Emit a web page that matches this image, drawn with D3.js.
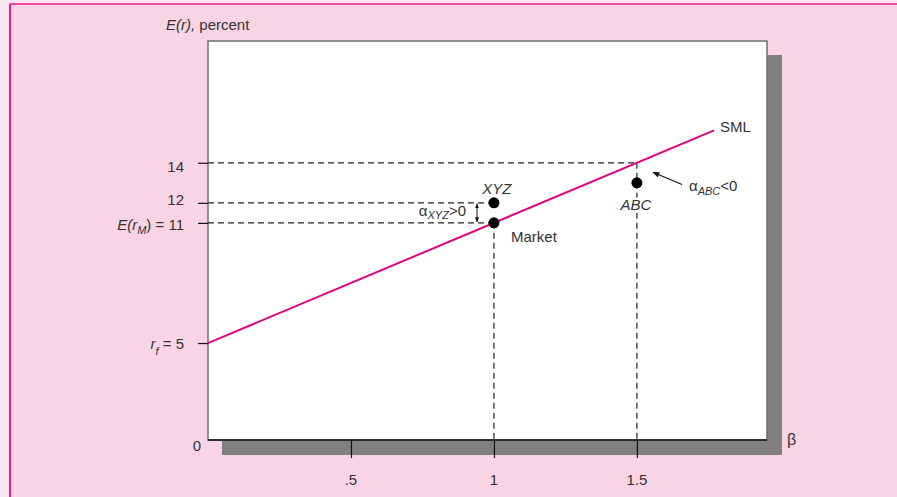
<!DOCTYPE html>
<html><head><meta charset="utf-8">
<script src="https://cdn.jsdelivr.net/npm/d3@7"></script>
<style>
html,body{margin:0;padding:0;background:#fce7f0;}
svg{display:block;font-family:"Liberation Sans",Arial,Helvetica,sans-serif;}
</style></head>
<body>
<svg id="chart" width="897" height="497"></svg>
<script>
// ---- data ----
const riskFree = 5;
const marketBeta = 1;
const marketReturn = 11;
const smlBetaEnd = 1.77;
const stockNames = ["XYZ", "ABC"];
const stockBetas = [1, 1.5];
const stockReturns = [12, 13];
const smlAtABC = 14;
const xTickValues = [0.5, 1, 1.5];
const xTickLabels = [".5", "1", "1.5"];
const yTickValues = [5, 11, 12, 14];

const svg = d3.select("#chart");
const W = 897, H = 497;
const box = {left: 208, top: 41, right: 767, bottom: 440};

const x = d3.scaleLinear().domain([0, 1.955]).range([box.left, box.right]);
const y = d3.scaleLinear().domain([0, 20]).range([443.2, 42.6]);

const pink = "#e5007e";

// frame
svg.append("rect").attr("x", 0).attr("y", 0).attr("width", W).attr("height", H).attr("fill", "#fce7f0");
svg.append("rect").attr("x", 10).attr("y", 4).attr("width", W - 10).attr("height", H - 4).attr("fill", "#f9d4e5");
svg.append("line").attr("x1", 10).attr("x2", W).attr("y1", 4).attr("y2", 4).attr("stroke", "#ec4a9e").attr("stroke-width", 2);
svg.append("line").attr("x1", 10).attr("x2", 10).attr("y1", 4).attr("y2", H).attr("stroke", "#ee1a8c").attr("stroke-width", 2);

// shadow
svg.append("rect").attr("x", box.left + 14).attr("y", box.top + 14)
  .attr("width", box.right - box.left + 1).attr("height", box.bottom - box.top + 1)
  .attr("fill", "#808080");
// plot box
svg.append("rect").attr("x", box.left).attr("y", box.top)
  .attr("width", box.right - box.left).attr("height", box.bottom - box.top)
  .attr("fill", "#ffffff").attr("stroke", "#6f6f6f").attr("stroke-width", 1.5);

// axes
const xAxis = d3.axisBottom(x).tickValues(xTickValues).tickSize(18).tickFormat("");
const gx = svg.append("g").attr("transform", `translate(0,${box.bottom})`).call(xAxis);
gx.select(".domain").remove();
gx.selectAll(".tick line").attr("stroke", "#111").attr("stroke-width", 1.2);
svg.append("line").attr("x1", box.left).attr("x2", box.right).attr("y1", box.bottom).attr("y2", box.bottom)
  .attr("stroke", "#111").attr("stroke-width", 1.5);
svg.selectAll(".xlab").data(xTickValues).enter().append("text")
  .attr("x", d => x(d)).attr("y", 485).attr("text-anchor", "middle")
  .attr("font-size", 15).attr("fill", "#333").text((d, i) => xTickLabels[i]);

const yAxis = d3.axisLeft(y).tickValues(yTickValues).tickSize(10).tickFormat("");
const gy = svg.append("g").attr("transform", `translate(${box.left},0)`).call(yAxis);
gy.select(".domain").remove();
gy.selectAll(".tick line").attr("stroke", "#111").attr("stroke-width", 1.2);

// y tick labels
const labShift = {5: 6, 11: 7, 12: 2, 14: 9};
const yl = svg.append("g").attr("font-size", 15).attr("fill", "#333").attr("text-anchor", "end");
yTickValues.forEach(v => {
  const t = yl.append("text").attr("x", 184).attr("y", y(v) + labShift[v]);
  if (v === riskFree) {
    t.append("tspan").attr("font-style", "italic").text("r");
    t.append("tspan").attr("font-style", "italic").attr("font-size", 11).attr("dy", 6).text("f");
    t.append("tspan").attr("dy", -6).text(" = " + v);
  } else if (v === marketReturn) {
    t.append("tspan").attr("font-style", "italic").text("E(r");
    t.append("tspan").attr("font-style", "italic").attr("font-size", 11).attr("dy", 4).text("M");
    t.append("tspan").attr("dy", -4).text(") = " + v);
  } else {
    t.text(v);
  }
});
svg.append("text").attr("x", 201).attr("y", 451).attr("text-anchor", "end")
  .attr("font-size", 15).attr("fill", "#333").text("0");

// axis titles
const tt = svg.append("text").attr("x", 166).attr("y", 29.5).attr("font-size", 15).attr("fill", "#333");
tt.append("tspan").attr("font-style", "italic").text("E(r),");
tt.append("tspan").text(" percent");
svg.append("text").attr("x", 787).attr("y", 445).attr("font-size", 16).attr("fill", "#333").text("β");

// dashed guides
const dash = "6,4";
function dline(x1, y1, x2, y2) {
  svg.append("line").attr("x1", x1).attr("y1", y1).attr("x2", x2).attr("y2", y2)
    .attr("stroke", "#222").attr("stroke-width", 1.2).attr("stroke-dasharray", dash);
}
dline(box.left, y(smlAtABC), x(stockBetas[1]), y(smlAtABC));
dline(box.left, y(stockReturns[0]), x(stockBetas[0]), y(stockReturns[0]));
dline(box.left, y(marketReturn), x(marketBeta), y(marketReturn));
dline(x(marketBeta), y(marketReturn), x(marketBeta), box.bottom);
dline(x(stockBetas[1]), y(smlAtABC), x(stockBetas[1]), box.bottom);

// SML
const smlData = [0, smlBetaEnd].map(b => [b, riskFree + (marketReturn - riskFree) * b]);
svg.append("path").datum(smlData)
  .attr("d", d3.line().x(d => x(d[0])).y(d => y(d[1])))
  .attr("stroke", pink).attr("stroke-width", 2).attr("fill", "none");
svg.append("text").attr("x", 720).attr("y", 132).attr("font-size", 15).attr("fill", "#333").text("SML");

// points
const pts = [{b: marketBeta, r: marketReturn}].concat(stockNames.map((n, i) => ({b: stockBetas[i], r: stockReturns[i]})));
svg.selectAll(".pt").data(pts).enter().append("circle")
  .attr("cx", d => x(d.b)).attr("cy", d => y(d.r)).attr("r", 5.5).attr("fill", "#000");

svg.append("text").attr("x", x(stockBetas[0]) + 3).attr("y", 193.5).attr("text-anchor", "middle")
  .attr("font-size", 15).attr("font-style", "italic").attr("fill", "#333").text(stockNames[0]);
svg.append("text").attr("x", x(stockBetas[1]) - 1).attr("y", 209.5).attr("text-anchor", "middle")
  .attr("font-size", 15).attr("font-style", "italic").attr("fill", "#333")
  .attr("stroke", "#fff").attr("stroke-width", 5).attr("paint-order", "stroke").text(stockNames[1]);
svg.append("text").attr("x", 511).attr("y", 242).attr("font-size", 15).attr("fill", "#333").text("Market");

// alpha annotations
const defs = svg.append("defs");
defs.append("marker").attr("id", "ah").attr("viewBox", "0 0 10 10").attr("refX", 9).attr("refY", 5)
  .attr("markerWidth", 9).attr("markerHeight", 7).attr("orient", "auto-start-reverse")
  .attr("markerUnits", "userSpaceOnUse")
  .append("path").attr("d", "M0,1 L10,5 L0,9 z").attr("fill", "#111");
defs.append("marker").attr("id", "ahs").attr("viewBox", "0 0 10 10").attr("refX", 9).attr("refY", 5)
  .attr("markerWidth", 5).attr("markerHeight", 5).attr("orient", "auto-start-reverse")
  .attr("markerUnits", "userSpaceOnUse")
  .append("path").attr("d", "M0,1 L10,5 L0,9 z").attr("fill", "#111");

svg.append("line").attr("x1", 682).attr("y1", 184.5).attr("x2", 653).attr("y2", 172.3)
  .attr("stroke", "#111").attr("stroke-width", 1.2).attr("marker-end", "url(#ah)");
const aa = svg.append("text").attr("x", 689).attr("y", 191).attr("font-size", 15).attr("fill", "#333");
aa.append("tspan").text("α");
aa.append("tspan").attr("font-size", 11).attr("font-style", "italic").attr("dy", 4).text(stockNames[1]);
aa.append("tspan").attr("dy", -4).text("<0");

svg.append("line").attr("x1", 477).attr("y1", y(stockReturns[0]) + 1).attr("x2", 477).attr("y2", y(marketReturn) - 1)
  .attr("stroke", "#111").attr("stroke-width", 1).attr("marker-end", "url(#ahs)").attr("marker-start", "url(#ahs)");
const ax = svg.append("text").attr("x", 466).attr("y", 216).attr("text-anchor", "end").attr("font-size", 15).attr("fill", "#333");
ax.append("tspan").text("α");
ax.append("tspan").attr("font-size", 11).attr("font-style", "italic").attr("dy", 3).text(stockNames[0]);
ax.append("tspan").attr("dy", -3).text(">0");
</script>
</body></html>
